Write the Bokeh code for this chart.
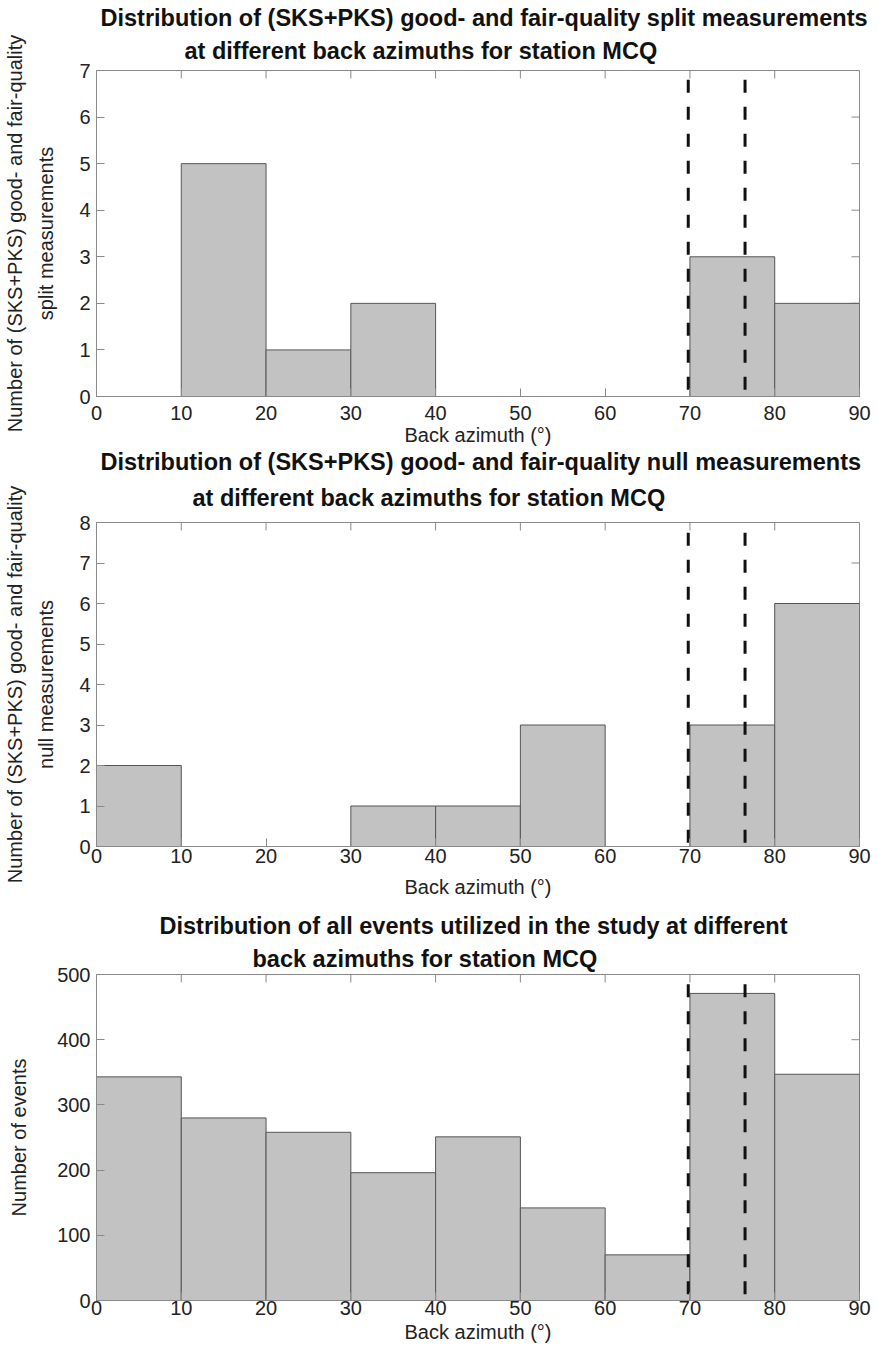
import math
from bokeh.plotting import figure
from bokeh.layouts import column
from bokeh.models import Range1d, LinearAxis, FixedTicker, Title
from bokeh.embed import file_html
from bokeh.resources import INLINE

# ---------------- data ----------------
bin_edges = [0, 10, 20, 30, 40, 50, 60, 70, 80, 90]
split_counts = [0, 5, 1, 2, 0, 0, 0, 3, 2]
null_counts = [2, 0, 0, 1, 1, 3, 0, 3, 6]
event_counts = [343, 280, 258, 196, 251, 142, 70, 471, 347]
ref_azimuths = [69.8, 76.5]
x_ticks = [0, 10, 20, 30, 40, 50, 60, 70, 80, 90]
split_yticks = [0, 1, 2, 3, 4, 5, 6, 7]
null_yticks = [0, 1, 2, 3, 4, 5, 6, 7, 8]
event_yticks = [0, 100, 200, 300, 400, 500]

titles = [
    ["Distribution of (SKS+PKS) good- and fair-quality split measurements",
     "at different back azimuths for station MCQ"],
    ["Distribution of (SKS+PKS) good- and fair-quality null measurements",
     "at different back azimuths for station MCQ"],
    ["Distribution of all events utilized in the study at different",
     "back azimuths for station MCQ"],
]
ylabels = [
    ["Number of (SKS+PKS) good- and fair-quality", "split measurements"],
    ["Number of (SKS+PKS) good- and fair-quality", "null measurements"],
    ["Number of events"],
]
xlabel = "Back azimuth (\u00b0)"

FONT = "Liberation Sans"
AXIS_GRAY = "#8a8a8a"
TEXT_COL = "#222222"
FRAME_LEFT = 96
FRAME_RIGHT = 859
W = 879


def style_axis(ax):
    ax.axis_line_color = AXIS_GRAY
    ax.major_tick_line_color = AXIS_GRAY
    ax.major_tick_in = 8
    ax.major_tick_out = 0
    ax.minor_tick_line_color = None
    ax.major_label_text_font = FONT
    ax.major_label_text_color = TEXT_COL
    ax.major_label_text_font_size = "20px"
    ax.axis_label_text_font = FONT
    ax.axis_label_text_font_size = "20px"
    ax.axis_label_text_font_style = "normal"
    ax.axis_label_text_color = TEXT_COL


def panel(counts, yticks, dash_top, title_lines, ylabel_lines,
          height, b_top, b_bottom, tick_standoff, xlabel_standoff,
          title_offsets, title_standoffs, ylabel_standoffs):
    ymax = yticks[-1]
    p = figure(width=W, height=height, output_backend="svg", toolbar_location=None,
               x_range=Range1d(0, 90), y_range=Range1d(0, ymax),
               min_border_left=FRAME_LEFT, min_border_right=W - FRAME_RIGHT,
               min_border_top=b_top, min_border_bottom=b_bottom,
               x_axis_location=None, y_axis_location=None)
    p.grid.visible = False
    p.outline_line_color = AXIS_GRAY
    p.outline_line_width = 1
    p.background_fill_color = "white"
    p.border_fill_color = "white"

    # bottom axis
    xax = LinearAxis(ticker=FixedTicker(ticks=x_ticks))
    style_axis(xax)
    xax.major_label_standoff = tick_standoff
    xax.axis_label = xlabel
    xax.axis_label_standoff = xlabel_standoff
    p.add_layout(xax, "below")

    # left axis (ticks + inner label line)
    yax = LinearAxis(ticker=FixedTicker(ticks=yticks))
    style_axis(yax)
    yax.major_label_standoff = 6
    yax.axis_label = ylabel_lines[-1]
    yax.axis_label_standoff = ylabel_standoffs[-1]
    p.add_layout(yax, "left")

    # outer label line (axis without ticks)
    if len(ylabel_lines) > 1:
        yax2 = LinearAxis(ticker=FixedTicker(ticks=[]))
        style_axis(yax2)
        yax2.axis_line_color = None
        yax2.major_tick_line_color = None
        yax2.major_label_standoff = 0
        yax2.axis_label = ylabel_lines[0]
        yax2.axis_label_standoff = ylabel_standoffs[0]
        p.add_layout(yax2, "left")

    # inward ticks on top and right edges
    p.ray(x=[90] * len(yticks), y=yticks, length=8, angle=math.pi,
          length_units="screen", line_color=AXIS_GRAY, line_width=1)
    p.ray(x=x_ticks, y=[ymax] * len(x_ticks), length=8, angle=-math.pi / 2,
          length_units="screen", line_color=AXIS_GRAY, line_width=1)

    p.quad(left=bin_edges[:-1], right=bin_edges[1:], bottom=0, top=counts,
           fill_color="#c2c2c2", line_color="#555555", line_width=1)

    p.segment(x0=ref_azimuths, y0=[dash_top] * len(ref_azimuths),
              x1=ref_azimuths, y1=[0] * len(ref_azimuths),
              line_color="#111111", line_width=3, line_dash="13 14")

    # two-line title: line 2 nearest the frame
    for txt, off, so in ((title_lines[1], title_offsets[1], title_standoffs[1]),
                         (title_lines[0], title_offsets[0], title_standoffs[0])):
        t = Title(text=txt, align="left", offset=off, standoff=so,
                  text_font=FONT, text_font_style="bold",
                  text_font_size="23.5px", text_color="#111111")
        p.add_layout(t, "above")
    return p


p1 = panel(split_counts, split_yticks, 6.8, titles[0], ylabels[0],
           height=450, b_top=70, b_bottom=54, tick_standoff=9, xlabel_standoff=1,
           title_offsets=[4, 88], title_standoffs=[-5, 14],
           ylabel_standoffs=[7, 19])
p2 = panel(null_counts, null_yticks, 7.75, titles[1], ylabels[1],
           height=453, b_top=72, b_bottom=57, tick_standoff=2, xlabel_standoff=10,
           title_offsets=[4, 96], title_standoffs=[-8, 24],
           ylabel_standoffs=[7, 19])
p3 = panel(event_counts, event_yticks, 485, titles[2], ylabels[2],
           height=453, b_top=71, b_bottom=56, tick_standoff=0, xlabel_standoff=3,
           title_offsets=[63, 156], title_standoffs=[5, 5],
           ylabel_standoffs=[24])

layout = column(p1, p2, p3, spacing=0)
open("out.html", "w").write(file_html(layout, INLINE))
